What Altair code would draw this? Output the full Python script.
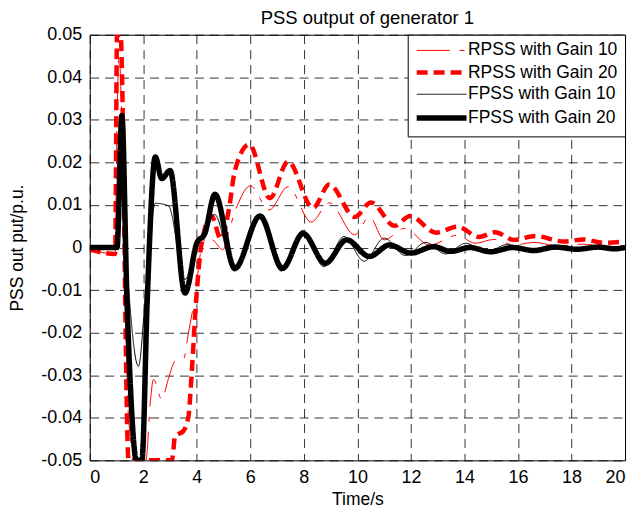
import altair as alt
import pandas as pd

series_names = ["RPSS with Gain 10", "RPSS with Gain 20", "FPSS with Gain 10", "FPSS with Gain 20"]
series_colors = ["#ff0000", "#ff0000", "#000000", "#000000"]
series_widths = [1, 4.5, 1, 5.5]
series_dash = [[33, 10, 5, 10], [11, 6], [1, 0], [1, 0]]

x_ticks = [0, 2, 4, 6, 8, 10, 12, 14, 16, 18, 20]
y_ticks = [-0.05, -0.04, -0.03, -0.02, -0.01, 0, 0.01, 0.02, 0.03, 0.04, 0.05]

# RPSS with Gain 10 (thin red)
r10_t = [0, 0.95, 1.02, 1.1, 1.2, 1.45, 1.7, 2.1, 2.26, 2.38, 2.69, 2.94, 3.19, 3.5, 3.69,
         3.93, 4.18, 4.4, 4.65, 4.97, 5.25, 5.55, 6.0, 6.7, 7.41, 8.28, 8.95, 9.9, 10.45,
         11.0, 11.76, 12.7, 13.74, 14.4, 15.1, 15.85, 16.6, 17.5, 18.4, 19.2, 20]
r10_v = [-0.0005, -0.0015, 0.03, 0.045, 0.03, -0.04, -0.05, -0.05, -0.0365, -0.031, -0.0357,
         -0.0308, -0.0267, -0.0263, -0.02, -0.0115, 0.0, 0.0025, 0.0015, -0.0005, 0.005,
         0.0104, 0.0145, 0.0088, 0.0143, 0.006, 0.0105, 0.003, 0.0072, 0.0018, 0.0045,
         0.0006, 0.0029, 0.001, 0.0019, 0.0006, 0.0012, 0.0004, 0.0008, 0.0003, 0.0005]

# RPSS with Gain 20 (thick red dashed)
r20_t = [0, 0.95, 1.02, 1.15, 1.45, 3.07, 3.19, 3.5, 3.69, 3.81, 3.96, 4.18, 4.55, 4.9,
         5.2, 5.42, 5.96, 6.73, 7.41, 8.34, 8.95, 9.9, 10.51, 11.39, 11.97, 12.94, 13.74,
         14.55, 15.15, 15.85, 16.65, 17.72, 18.46, 19.2, 20]
r20_v = [-0.0005, -0.0015, 0.05, 0.05, -0.05, -0.05, -0.0443, -0.0431, -0.0396, -0.0295,
         -0.0139, 0.001, 0.0074, 0.002, 0.009, 0.018, 0.0242, 0.0116, 0.0202, 0.0093,
         0.0148, 0.0072, 0.0106, 0.0051, 0.0074, 0.0035, 0.0049, 0.0025, 0.0036, 0.0018,
         0.0027, 0.0014, 0.0019, 0.0011, 0.0014]

# FPSS with Gain 10 (thin black)
f10_t = [0, 1.02, 1.2, 1.4, 1.82, 2.1, 2.45, 2.94, 3.56, 4.0, 4.3, 4.66, 5.4, 6.3, 7.15,
         7.95, 8.75, 9.5, 10.25, 11.0, 11.8, 12.55, 13.3, 14.05, 14.8, 15.6, 16.4, 17.2,
         18.0, 18.8, 19.6, 20]
f10_v = [0, 0, 0.0158, -0.005, -0.0279, -0.01, 0.0104, 0.0098, -0.0075, 0.0005, 0.003,
         0.0078, -0.0055, 0.0077, -0.0055, 0.004, -0.0045, 0.0026, -0.0032, 0.0022, -0.0019,
         0.0012, -0.0015, 0.001, -0.0011, 0.0007, -0.0006, 0.0004, -0.0004, 0.0003, -0.0002, 0]

# FPSS with Gain 20 (thick black)
f20_t = [0, 1.02, 1.2, 1.39, 1.5, 1.75, 1.95, 2.15, 2.45, 2.69, 3.0, 3.56, 4.0, 4.3, 4.68,
         5.42, 6.36, 7.2, 7.97, 8.8, 9.6, 10.45, 11.2, 12.0, 12.85, 13.5, 14.2, 14.98, 15.8,
         16.6, 17.4, 18.2, 19.0, 19.6, 20]
f20_v = [0, 0, 0.031, -0.012, -0.03, -0.05, -0.05, -0.012, 0.0213, 0.0162, 0.0181, -0.0107,
         0.001, 0.0033, 0.0125, -0.0049, 0.0074, -0.0049, 0.0033, -0.0037, 0.0018, -0.0021,
         0.0006, -0.0013, 0.0002, -0.0009, 0.0, -0.001, 0.0, -0.0007, 0.0001, -0.0004, 0.0001,
         -0.0003, 0.0]

all_t = [r10_t, r20_t, f10_t, f20_t]
all_v = [r10_v, r20_v, f10_v, f20_v]

FONT = "Liberation Sans"

color_scale = alt.Scale(domain=series_names, range=series_colors)
width_scale = alt.Scale(type="ordinal", domain=series_names, range=series_widths)
dash_scale = alt.Scale(domain=series_names, range=series_dash)

legend = alt.Legend(
    title=None, orient="top-right", offset=0, symbolType="M-3.3333,0L3.3333,0", symbolSize=225,
    symbolOffset=16.5, labelFontSize=17.5, labelFont=FONT, labelColor="black", strokeColor="black",
    fillColor="white", padding=7, rowPadding=3, columnPadding=0, labelOffset=16,
    cornerRadius=0, labelLimit=300,
)

layers = []
for name, ts, vs in zip(series_names, all_t, all_v):
    df = pd.DataFrame({"t": ts, "v": vs, "series": name})
    layer = alt.Chart(df).mark_line(clip=True, interpolate="monotone").encode(
        x=alt.X("t:Q", scale=alt.Scale(domain=[0, 20], nice=False),
                axis=alt.Axis(values=x_ticks, title="Time/s", grid=True, titlePadding=4)),
        y=alt.Y("v:Q", scale=alt.Scale(domain=[-0.05, 0.05], nice=False),
                axis=alt.Axis(values=y_ticks, title="PSS out put/p.u.", grid=True, titlePadding=14,
                              labelExpr="datum.value == 0 ? '0' : (datum.value < 0 ? '-' : '') + format(abs(datum.value), '.2f')")),
        color=alt.Color("series:N", scale=color_scale, legend=legend),
        strokeWidth=alt.StrokeWidth("series:N", scale=width_scale, legend=legend),
        strokeDash=alt.StrokeDash("series:N", scale=dash_scale, legend=legend),
    )
    layers.append(layer)

chart = alt.layer(*layers).properties(
    width=537, height=427,
    title=alt.TitleParams("PSS output of generator 1", fontSize=18.5, fontWeight="normal",
                          font=FONT, color="black", offset=-1.5, frame="group", dx=10),
    padding={"left": 0, "top": 0, "right": 5, "bottom": 0},
).configure_view(
    stroke="black", strokeWidth=1,
).configure_axis(
    labelFont=FONT, titleFont=FONT, labelFontSize=18, titleFontSize=17.5,
    titleFontWeight="normal", labelColor="black", titleColor="black",
    ticks=False, domain=False, labelPadding=8,
    gridColor="black", gridDash=[9, 6], gridWidth=0.8, gridOpacity=1,
)

chart.save("out.html", embed_options={"renderer": "svg", "actions": False})
